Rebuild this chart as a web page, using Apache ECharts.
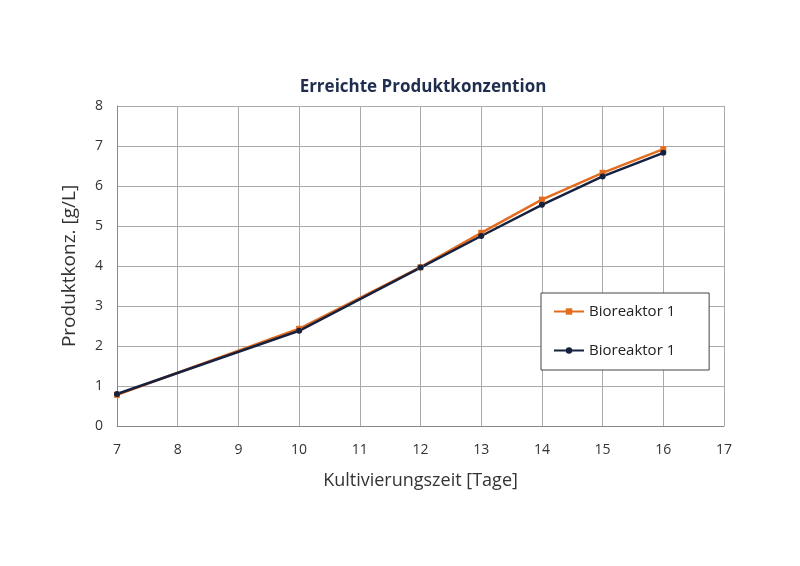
<!DOCTYPE html>
<html><head><meta charset="utf-8">
<script src="https://cdn.jsdelivr.net/npm/echarts@6/dist/echarts.min.js"></script>
<style>html,body{margin:0;background:#fff}#c{width:800px;height:566px}</style>
</head><body><div id="c"></div>
<script>
const days = [7, 10, 12, 13, 14, 15, 16];
const bio1Orange = [0.78, 2.43, 3.97, 4.83, 5.66, 6.33, 6.92];
const bio1Navy = [0.80, 2.38, 3.96, 4.75, 5.53, 6.24, 6.83];
const seriesNames = ['Bioreaktor 1', 'Bioreaktor 1 '];
const chart = echarts.init(document.getElementById('c'));
const font = 'Open Sans';
chart.setOption({
  animation: false,
  title: {text: 'Erreichte Produktkonzention', left: 418, top: 74, textAlign: 'center',
    textStyle: {fontFamily: font, fontSize: 17, fontWeight: 'bold', color: '#1f2d4e'}},
  grid: {left: 117, right: 76, top: 106, bottom: 140},
  legend: {orient: 'vertical', left: 541, top: 293,
    padding: [11, 30, 12, 12], itemGap: 24, itemWidth: 30, itemHeight: 8,
    borderColor: '#444', borderWidth: 1, backgroundColor: '#fff',
    textStyle: {fontFamily: font, fontSize: 15, color: '#222'},
    data: seriesNames},
  xAxis: {type: 'value', min: 7, max: 17, interval: 1,
    name: 'Kultivierungszeit [Tage]', nameLocation: 'middle', nameGap: 46,
    nameTextStyle: {fontFamily: font, fontSize: 18, color: '#333'},
    axisLine: {lineStyle: {color: '#888'}}, axisTick: {show: false},
    axisLabel: {fontFamily: font, fontSize: 14, color: '#333', margin: 17},
    splitLine: {lineStyle: {color: '#aaa'}}},
  yAxis: {type: 'value', min: 0, max: 8, interval: 1,
    name: 'Produktkonz. [g/L]', nameLocation: 'middle', nameGap: 38,
    nameTextStyle: {fontFamily: font, fontSize: 19, color: '#333'},
    axisLine: {show: true, lineStyle: {color: '#888'}}, axisTick: {show: false},
    axisLabel: {fontFamily: font, fontSize: 14, color: '#333', margin: 14},
    splitLine: {lineStyle: {color: '#aaa'}}},
  series: [
    {name: seriesNames[0], type: 'line', data: days.map((d, i) => [d, bio1Orange[i]]),
      color: '#e46c1e', lineStyle: {width: 2.5}, symbol: 'rect', symbolSize: 6},
    {name: seriesNames[1], type: 'line', data: days.map((d, i) => [d, bio1Navy[i]]),
      color: '#16203f', lineStyle: {width: 2.5}, symbol: 'circle', symbolSize: 6}
  ]
});
</script></body></html>
